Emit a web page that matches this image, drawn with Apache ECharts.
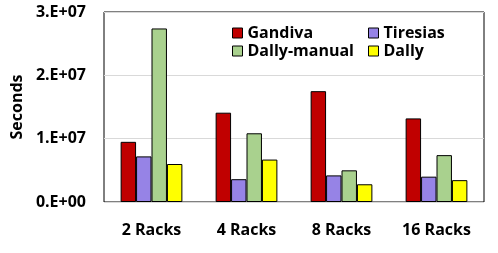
<!DOCTYPE html>
<html><head><meta charset="utf-8">
<script src="https://cdn.jsdelivr.net/npm/echarts@6/dist/echarts.min.js"></script>
<style>html,body{margin:0;padding:0;background:#fff}#c{width:498px;height:253px}</style>
</head><body><div id="c"></div>
<script>
const categories = ['2 Racks', '4 Racks', '8 Racks', '16 Racks'];
const gandiva = [9.5e6, 1.41e7, 1.75e7, 1.32e7];
const tiresias = [7.2e6, 3.6e6, 4.2e6, 4.0e6];
const dallyManual = [2.74e7, 1.085e7, 5.0e6, 7.4e6];
const dally = [6.0e6, 6.7e6, 2.8e6, 3.45e6];
const yTicks = [0, 1e7, 2e7, 3e7];
const yTickLabels = ['0.E+00', '1.E+07', '2.E+07', '3.E+07'];

const font = '"Open Sans", sans-serif';
const chart = echarts.init(document.getElementById('c'));
function bar(name, data, color) {
  return { name, type: 'bar', data, barGap: '0%', barCategoryGap: '35%',
    itemStyle: { color, borderColor: '#000', borderWidth: 1 } };
}
const legendText = { fontFamily: font, fontWeight: 'bold', fontSize: 16, color: '#000' };
chart.setOption({
  animation: false,
  grid: { left: 104, right: 14, top: 12, bottom: 51, show: true, borderColor: '#000', borderWidth: 1 },
  legend: [
    { data: ['Gandiva', 'Dally-manual'], orient: 'vertical', left: 227, top: 20, itemWidth: 10, itemHeight: 10, itemGap: 2,
      textStyle: legendText, icon: 'rect', itemStyle: { borderColor: '#000', borderWidth: 1 } },
    { data: ['Tiresias', 'Dally'], orient: 'vertical', left: 363, top: 20, itemWidth: 10, itemHeight: 10, itemGap: 2,
      textStyle: legendText, icon: 'rect', itemStyle: { borderColor: '#000', borderWidth: 1 } }
  ],
  xAxis: { type: 'category', data: categories,
    axisLine: { show: false }, axisTick: { show: false },
    axisLabel: { interval: 0, fontFamily: font, fontWeight: 'bold', fontSize: 16, color: '#000', margin: 20 } },
  yAxis: { type: 'value', min: 0, max: 3e7, interval: 1e7,
    name: 'Seconds', nameLocation: 'middle', nameGap: 79, nameRotate: 90,
    nameTextStyle: { fontFamily: font, fontWeight: 'bold', fontSize: 16, color: '#000' },
    axisLine: { show: false }, axisTick: { show: false },
    splitLine: { lineStyle: { color: '#d9d9d9', width: 1 } },
    axisLabel: { fontFamily: font, fontWeight: 'bold', fontSize: 16, color: '#000', margin: 18,
      formatter: v => yTickLabels[yTicks.indexOf(v)] } },
  series: [
    bar('Gandiva', gandiva, '#C00000'),
    bar('Tiresias', tiresias, '#9683E6'),
    bar('Dally-manual', dallyManual, '#A9D18E'),
    bar('Dally', dally, '#FFFF00')
  ]
});
</script></body></html>
